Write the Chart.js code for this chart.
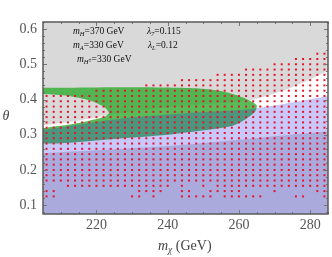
<!DOCTYPE html>
<html>
<head>
<meta charset="utf-8">
<script src="https://cdn.jsdelivr.net/npm/chart.js@4.4.0/dist/chart.umd.min.js"></script>
<style>
  html, body { margin: 0; padding: 0; background: #fff; }
  #wrap { width: 332px; height: 257px; position: relative; }
</style>
</head>
<body>
<div id="wrap"><canvas id="c"></canvas></div>
<script>
// scan grid (GeV, theta)
const mChi = [206, 208, 210, 212, 214, 216, 218, 220, 222, 224, 226, 228, 230, 232, 234, 236, 238, 240, 242, 244,
              246, 248, 250, 252, 254, 256, 258, 260, 262, 264, 266, 268, 270, 272, 274, 276, 278, 280, 282, 284];
const thetaRows = [0.125, 0.14, 0.155, 0.17, 0.185, 0.2, 0.215, 0.23, 0.245, 0.26, 0.275, 0.29, 0.305, 0.32,
                   0.335, 0.35, 0.365, 0.38, 0.395, 0.41, 0.425, 0.44, 0.455, 0.47, 0.485, 0.5, 0.515, 0.53];
// highest allowed theta in each column
const colTop = [0.41, 0.41, 0.41, 0.41, 0.41, 0.41, 0.41, 0.425, 0.425, 0.425, 0.425, 0.425, 0.425, 0.425,
                0.44, 0.44, 0.44, 0.44, 0.44, 0.455, 0.455, 0.455, 0.455, 0.455, 0.47, 0.47, 0.47, 0.47,
                0.485, 0.485, 0.485, 0.485, 0.5, 0.5, 0.5, 0.515, 0.515, 0.515, 0.53, 0.53];
// the three lowest rows are patchy
const row0 = [206, 208, 230, 232, 236, 244, 246, 248, 250, 252, 256, 258, 260, 262, 264, 266, 276, 278, 284];
const row1 = [206, 208, 232, 234, 236, 238, 244, 246, 252, 254, 256, 258, 260, 270, 282, 284];
const row2 = [212, 214, 216, 218, 220, 222, 224, 226, 228, 230, 232, 234, 236, 238, 240, 244, 250, 254, 256,
              258, 260, 262, 264, 266, 268, 270, 272, 274, 276, 278, 280, 282, 284];

// region edges
const grayEdgeX = [204, 215, 226, 240, 252, 264, 275, 286];
const grayEdgeY = [0.326, 0.34, 0.36, 0.378, 0.388, 0.40, 0.435, 0.486];
const lavEdgeX = [204, 226, 248, 264, 286];
const lavEdgeY = [0.312, 0.345, 0.363, 0.374, 0.412];
const purpleEdgeX = [204, 240, 286];
const purpleEdgeY = [0.247, 0.268, 0.311];
const greenTopX = [204, 230, 248, 255, 260, 263, 265];
const greenTopY = [0.433, 0.435, 0.432, 0.424, 0.41, 0.397, 0.383];
const greenBotX = [264.5, 262, 258, 248, 240, 225, 204];
const greenBotY = [0.365, 0.345, 0.325, 0.31, 0.3, 0.288, 0.276];
const holeBotX = [204, 212, 218, 222, 223.5];
const holeBotY = [0.313, 0.328, 0.34, 0.35, 0.362];
const holeTopX = [222, 218, 212, 204];
const holeTopY = [0.38, 0.398, 0.41, 0.416];

const xTicks = [220, 240, 260, 280];
const yTicks = [0.1, 0.2, 0.3, 0.4, 0.5, 0.6];

function edge(xs, ys) { return xs.map((x, i) => ({ x, y: ys[i] })); }

const dots = [];
mChi.forEach((m, i) => {
  thetaRows.forEach((t, j) => {
    if (t > colTop[i] + 1e-6) return;
    if (j === 0 && !row0.includes(m)) return;
    if (j === 1 && !row1.includes(m)) return;
    if (j === 2 && !row2.includes(m)) return;
    dots.push({ x: m, y: t });
  });
});

const crescent = [].concat(edge(greenTopX, greenTopY), edge(greenBotX, greenBotY),
                           edge(holeBotX, holeBotY), edge(holeTopX, holeTopY));

const region = (data, color, fill) => ({
  data, fill, backgroundColor: color, borderWidth: 0, pointRadius: 0, tension: 0.25
});

// gray plot background
const plotBg = {
  id: 'plotBg',
  beforeDatasetsDraw(chart) {
    const { ctx, chartArea: a } = chart;
    ctx.save();
    ctx.fillStyle = '#d9d9d9';
    ctx.fillRect(a.left, a.top, a.width, a.height);
    ctx.restore();
  }
};

function runs(ctx, x, y, parts) {
  parts.forEach(p => {
    ctx.font = p.f;
    ctx.fillText(p.t, x, y + (p.dy || 0));
    x += ctx.measureText(p.t).width;
  });
}

// frame, inside ticks, labels
const frame = {
  id: 'frame',
  afterDraw(chart) {
    const { ctx, chartArea: a, scales: { x, y } } = chart;
    ctx.save();
    ctx.strokeStyle = '#777';
    ctx.lineWidth = 1;
    ctx.beginPath();
    for (let v = 205; v <= 285; v += 5) {
      const px = Math.round(x.getPixelForValue(v)) + 0.5;
      const len = xTicks.includes(v) ? 4 : 2;
      ctx.moveTo(px, a.bottom); ctx.lineTo(px, a.bottom - len);
      ctx.moveTo(px, a.top); ctx.lineTo(px, a.top + len);
    }
    for (let k = 4; k <= 31; k++) {
      const v = k / 50;
      const py = Math.round(y.getPixelForValue(v)) + 0.5;
      const len = k % 5 === 0 ? 4 : 2;
      ctx.moveTo(a.left, py); ctx.lineTo(a.left + len, py);
      ctx.moveTo(a.right, py); ctx.lineTo(a.right - len, py);
    }
    ctx.stroke();
    ctx.strokeStyle = '#5a5a5a';
    ctx.lineWidth = 1.5;
    ctx.strokeRect(a.left, a.top, a.width, a.height);

    const R = '"Liberation Serif", serif';
    ctx.fillStyle = '#111';
    ctx.textBaseline = 'alphabetic';
    runs(ctx, 73, 34, [{ t: 'm', f: 'italic 9.5px ' + R }, { t: 'H', f: 'italic 6.5px ' + R, dy: 2 },
                       { t: '=370 GeV', f: '9.5px ' + R }]);
    runs(ctx, 147, 34, [{ t: 'λ', f: 'italic 9.5px ' + R }, { t: '7', f: 'italic 6.5px ' + R, dy: 2 },
                        { t: '=0.115', f: '9.5px ' + R }]);
    runs(ctx, 73, 48, [{ t: 'm', f: 'italic 9.5px ' + R }, { t: 'A', f: 'italic 6.5px ' + R, dy: 2 },
                       { t: '=330 GeV', f: '9.5px ' + R }]);
    runs(ctx, 148, 48, [{ t: 'λ', f: 'italic 9.5px ' + R }, { t: 'L', f: 'italic 6.5px ' + R, dy: 2 },
                        { t: '=0.12', f: '9.5px ' + R }]);
    runs(ctx, 77, 62, [{ t: 'm', f: 'italic 9.5px ' + R }, { t: 'H', f: 'italic 6.5px ' + R, dy: 2 },
                       { t: '±', f: '5.5px ' + R, dy: 0 }, { t: '=330 GeV', f: '9.5px ' + R }]);

    ctx.fillStyle = '#444';
    runs(ctx, 158, 250, [{ t: 'm', f: 'italic 14px ' + R }, { t: 'χ', f: 'italic 9.5px ' + R, dy: 3 },
                         { t: ' (GeV)', f: '14px ' + R }]);
    ctx.font = 'italic 14px ' + R;
    ctx.textAlign = 'center';
    ctx.textBaseline = 'middle';
    ctx.fillText('θ', 6, 116);
    ctx.restore();
  }
};

const tickFont = { family: '"Liberation Serif", serif', size: 14 };

new Chart(document.getElementById('c'), {
  type: 'line',
  data: {
    datasets: [
      { data: dots, showLine: false, pointStyle: 'rect', pointRadius: 1.4, pointBorderWidth: 0,
        pointBackgroundColor: '#e8102a', borderWidth: 0 },
      region(edge(purpleEdgeX, purpleEdgeY), '#aaaadd', 'start'),
      region(edge(lavEdgeX, lavEdgeY), 'rgba(35,35,235,0.25)', 'start'),
      region(crescent, 'rgba(46,171,46,0.8)', 'shape'),
      region(edge(grayEdgeX, grayEdgeY), '#ffffff', 'start')
    ]
  },
  options: {
    animation: false,
    responsive: true,
    maintainAspectRatio: false,
    events: [],
    layout: { padding: { top: 22, right: 1, left: 0, bottom: 0 } },
    plugins: { legend: { display: false }, tooltip: { enabled: false } },
    scales: {
      x: {
        type: 'linear', min: 205, max: 285,
        afterBuildTicks: s => { s.ticks = xTicks.map(v => ({ value: v })); },
        afterFit: s => { s.height = 43; },
        grid: { display: false, drawTicks: false },
        border: { display: false },
        ticks: { color: '#555', font: tickFont, padding: 3, maxRotation: 0 }
      },
      y: {
        type: 'linear', min: 0.075, max: 0.62,
        afterBuildTicks: s => { s.ticks = yTicks.map(v => ({ value: v })); },
        afterFit: s => { s.width = 43; },
        grid: { display: false, drawTicks: false },
        border: { display: false },
        ticks: { color: '#555', font: tickFont, padding: 6 }
      }
    }
  },
  plugins: [plotBg, frame]
});
</script>
</body>
</html>
